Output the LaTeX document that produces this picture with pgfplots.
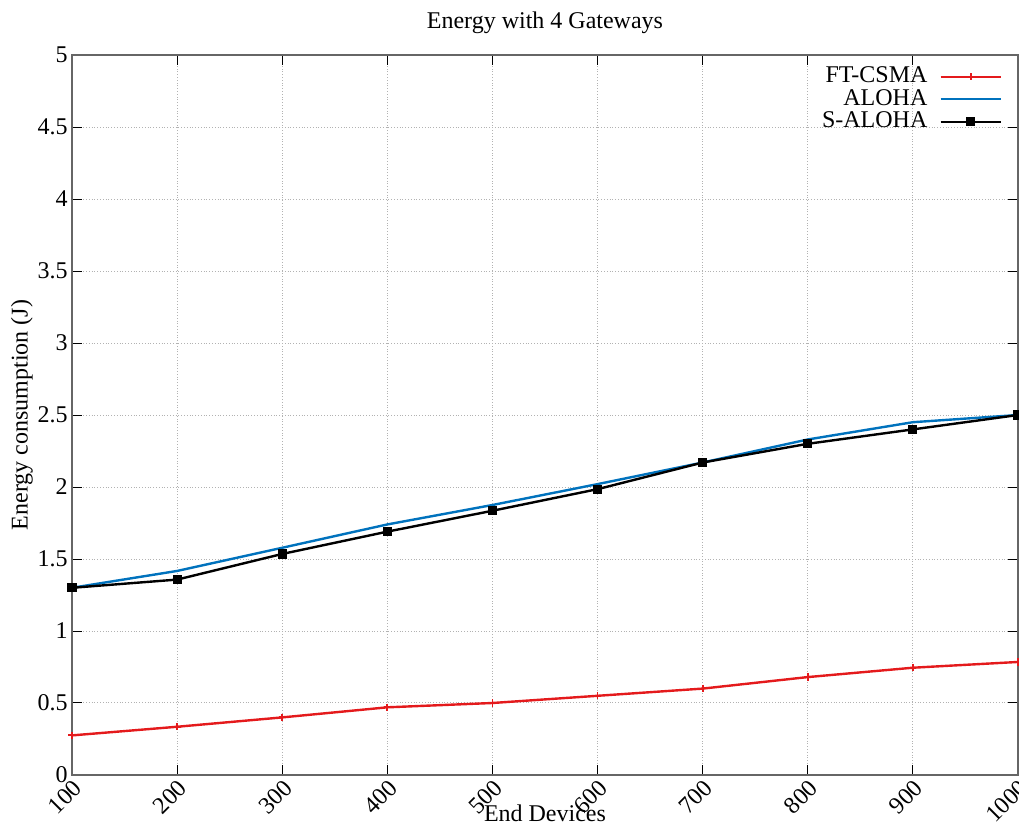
\documentclass[border=0pt]{standalone}
\usepackage{pgfplots}
\pgfplotsset{compat=1.18}
\usepackage{fontspec}
\setmainfont{Liberation Serif}
\definecolor{cred}{RGB}{228,26,28}
\definecolor{cblue}{RGB}{0,114,189}
\begin{document}
\fontsize{12}{14}\selectfont
\begin{tikzpicture}
\begin{axis}[
  at={(0,0)}, anchor=south west,
  scale only axis, width=473pt, height=360pt,
  xmin=100, xmax=1000, ymin=0, ymax=5,
  xtick={100,200,...,1000},
  xticklabels={100,200,300,400,500,600,700,800,900,1000},
  ytick={0,0.5,...,5},
  yticklabels={0,0.5,1,1.5,2,2.5,3,3.5,4,4.5,5},
  /pgf/number format/assume math mode=true,
  tick label style={font=\fontsize{12}{14}\selectfont},
  xticklabel style={rotate=45, anchor=north east, inner sep=1pt},
  yticklabel style={inner sep=2pt},
  grid=major,
  major grid style={densely dotted, gray!60, line width=0.5pt},
  axis line style={gray!80!black, line width=0.6pt},
  tick style={black, line width=0.5pt},
  tick align=inside,
  major tick length=5pt,
  every axis title shift=0pt,
  title={Energy with 4 Gateways},
  title style={at={(axis description cs:0.5,1.045)}, anchor=center, font=\fontsize{12}{14}\selectfont},
  xlabel={End Devices},
  xlabel style={at={(axis description cs:0.5,-0.053)}, anchor=center, font=\fontsize{12}{14}\selectfont},
  ylabel={Energy consumption (J)},
  ylabel style={at={(axis description cs:-0.053,0.5)}, anchor=center, rotate=0, font=\fontsize{12}{14}\selectfont},
  legend style={draw=none, fill=none, at={(axis description cs:0.99,0.995)}, anchor=north east, font=\fontsize{12}{14}\selectfont, row sep=-2.5pt,
    /tikz/every odd column/.append style={column sep=4pt}},
  legend cell align=right,
  legend plot pos=right,
  legend image code/.code={\draw[mark repeat=2,mark phase=2] plot coordinates {(0cm,0cm)(0.53cm,0cm)(1.06cm,0cm)};},
]
\addplot[cred, line width=1.2pt, mark=+, mark size=1.8pt, mark options={line width=0.9pt}] coordinates {
(100,0.275) (200,0.335) (300,0.40) (400,0.47) (500,0.50) (600,0.55) (700,0.60) (800,0.68) (900,0.745) (1000,0.785)};
\addlegendentry{FT-CSMA}
\addplot[cblue, line width=1.2pt] coordinates {
(100,1.30) (200,1.417) (300,1.578) (400,1.74) (500,1.875) (600,2.02) (700,2.17) (800,2.33) (900,2.45) (1000,2.50)};
\addlegendentry{ALOHA}
\addplot[black, line width=1.2pt, mark=square*, mark size=1.7pt] coordinates {
(100,1.30) (200,1.357) (300,1.535) (400,1.69) (500,1.835) (600,1.985) (700,2.17) (800,2.30) (900,2.40) (1000,2.50)};
\addlegendentry{S-ALOHA}
\end{axis}
\pgfresetboundingbox
\path[use as bounding box] (-36pt,-25pt) rectangle (473.5pt,387.5pt);
\end{tikzpicture}
\end{document}
